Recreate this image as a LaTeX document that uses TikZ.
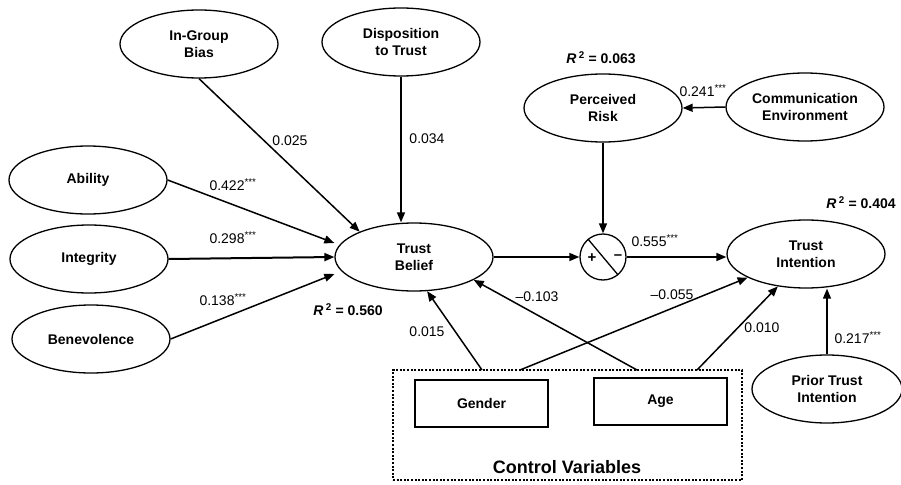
\documentclass[tikz,border=0pt]{standalone}
\usepackage{fontspec}
\setmainfont{Liberation Sans}
\usetikzlibrary{shapes.geometric,arrows.meta}
\begin{document}
\begin{tikzpicture}[x=1pt,y=-1pt,
  construct/.style={ellipse,draw,line width=1.3pt,minimum width=158pt,minimum height=68pt,
    inner sep=0pt,align=center,font=\fontsize{14}{17}\selectfont\bfseries},
  covariate/.style={rectangle,draw,line width=1.3pt,minimum width=133pt,minimum height=47pt,
    inner sep=0pt,font=\fontsize{14}{17}\selectfont\bfseries},
  effect/.style={line width=1.5pt,-{Triangle[length=10pt,width=8pt]}},
  coef/.style={inner sep=0pt,font=\fontsize{14}{16}\selectfont},
  rsq/.style={inner sep=0pt,font=\fontsize{14}{16}\selectfont\bfseries}]
\useasboundingbox (0,0) rectangle (901,484);

% latent constructs
\node[construct] (bias)   at (199,44)  {In-Group\\Bias};
\node[construct] (disp)   at (401,42)  {Disposition\\to Trust};
\node[construct] (abil)   at (88,180)  {Ability};
\node[construct] (integ)  at (89,259)  {Integrity};
\node[construct] (benev)  at (91,339)  {Benevolence};
\node[construct] (belief) at (414,257) {Trust\\Belief};
\node[construct] (risk)   at (603,108) {Perceived\\Risk};
\node[construct] (comm)   at (805,107) {Communication\\Environment};
\node[construct] (intent) at (806,254) {Trust\\Intention};
\node[construct,minimum width=150pt] (prior) at (827,389) {Prior Trust\\Intention};

% moderation operator
\node[circle,draw,line width=1.3pt,minimum size=46pt,inner sep=0pt] (mod) at (603,257) {};
\draw[line width=1.3pt] (mod.130) -- (mod.-50);
\node[inner sep=0pt,font=\fontsize{15}{15}\selectfont\bfseries] (plus) at (592,258) {+};
\node[inner sep=0pt,font=\fontsize{15}{15}\selectfont\bfseries] (minus) at (618,257) {–};

% control variables
\node[draw,line width=2.2pt,dash pattern=on 2pt off 1.6pt,minimum width=349pt,minimum height=110pt,
  inner sep=0pt] (ctrl) at (567.5,425) {};
\node[covariate] (gender) at (481.5,403.5) {Gender};
\node[covariate] (age)    at (660.5,401.5) {Age};
\node[inner sep=0pt,font=\fontsize{18}{20}\selectfont\bfseries] (ctrllabel) at (567,467) {Control Variables};
\coordinate (g1) at (482,370);
\coordinate (g2) at (520,370);
\coordinate (a1) at (637,370);
\coordinate (a2) at (697,370);

% structural paths
\draw[effect] (bias.south) -- (belief.155);
\draw[effect] (disp.south) -- (belief.north -| disp.south);
\draw[effect] (abil.east) -- ([yshift=14pt]belief.west);
\draw[effect,line width=2pt] (integ.east) -- (belief.west);
\draw[effect] (benev.east) -- ([yshift=-17pt]belief.west);
\draw[effect] (belief.east) -- (mod.west);
\draw[effect] (mod.east) -- (mod.east -| intent.west);
\draw[effect] (risk.south) -- (mod.north);
\draw[effect] (comm.west) -- (risk.east);
\draw[effect] (prior.north) -- (prior.north |- intent.south);
\draw[effect] (g1) -- (belief.-69);
\draw[effect] (a1) -- (belief.-21);
\draw[effect] (g2) -- (intent.-158);
\draw[effect] (a2) -- (intent.-131);

% path coefficients
\node[coef] (c1)  at (290,141) {0.025};
\node[coef] (c2)  at (427,139) {0.034};
\node[coef] (c3)  at (233,185) {0.422\textsuperscript{***}};
\node[coef] (c4)  at (233,238) {0.298\textsuperscript{***}};
\node[coef] (c5)  at (223,300) {0.138\textsuperscript{***}};
\node[coef] (c6)  at (655,241) {0.555\textsuperscript{***}};
\node[coef] (c7)  at (703,91)  {0.241\textsuperscript{***}};
\node[coef] (c8)  at (858,338) {0.217\textsuperscript{***}};
\node[coef] (c9)  at (427,332) {0.015};
\node[coef] (c10) at (537,297) {–0.103};
\node[coef] (c11) at (672,295) {–0.055};
\node[coef] (c12) at (762,328) {0.010};

% explained variance
\node[rsq] (r1) at (348,310) {\textit{R}\,\textsuperscript{2} = 0.560};
\node[rsq] (r2) at (601,58)  {\textit{R}\,\textsuperscript{2} = 0.063};
\node[rsq] (r3) at (861,203) {\textit{R}\,\textsuperscript{2} = 0.404};
\end{tikzpicture}
\end{document}
